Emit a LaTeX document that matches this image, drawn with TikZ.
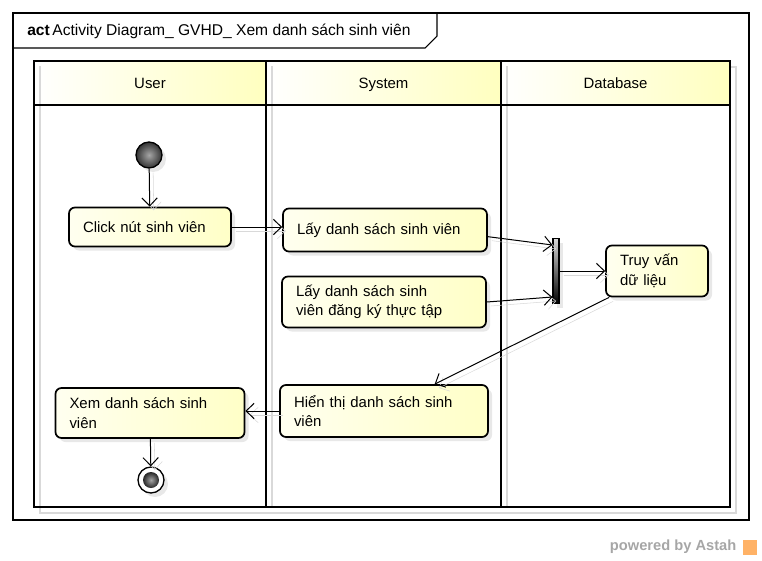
\documentclass[tikz,border=0pt]{standalone}
\usepackage{fontspec}
\setmainfont{Liberation Sans}
\usetikzlibrary{arrows.meta,shadows}

\begin{document}
\begin{tikzpicture}[
  x=0.75pt, y=-0.75pt,
  every node/.style={font=\fontsize{11.2pt}{14.5pt}\selectfont},
  lane/.style={line width=1.6pt},
  laneshade/.style={draw=black!15, line width=1.2pt},
  act/.style={draw, line width=1.3pt, rounded corners=4.5pt, align=left,
    inner xsep=10.5pt, left color=yellow!6, right color=yellow!22,
    drop shadow={shadow xshift=3pt, shadow yshift=-3pt, fill=black!18}},
  bar/.style={draw, line width=0.8pt, inner sep=0pt, minimum width=4.5pt,
    minimum height=48.75pt, top color=black!15, bottom color=black,
    drop shadow={shadow xshift=3pt, shadow yshift=-3pt, fill=black!18}},
  start/.style={circle, draw, line width=1pt, minimum size=19.5pt, inner sep=0pt,
    inner color=black!35, outer color=black!80,
    drop shadow={shadow xshift=3pt, shadow yshift=-3pt, fill=black!18}},
  stop/.style={circle, draw, line width=1pt, minimum size=19.5pt, inner sep=0pt,
    fill=white, drop shadow={shadow xshift=3pt, shadow yshift=-3pt, fill=black!18}},
  flow/.style={-{Straight Barb[length=6pt,width=11.5pt]}, line width=0.75pt,
    preaction={draw=black!15, transform canvas={xshift=3pt,yshift=-3pt}}}
]
\useasboundingbox (0,0) rectangle (762,560);

% frame and title tab
\draw[line width=0.8pt] (13,13) rectangle (749,520);
\draw[line width=0.8pt] (13,48) -- (425,48) -- (437,36) -- (437,13);
\node[anchor=west, inner sep=0pt, font=\fontsize{11.7pt}{14pt}\selectfont] (title) at (27,31) {\textbf{act}\,Activity Diagram\_ GVHD\_ Xem danh sách sinh viên};

% swimlanes
\draw[laneshade] (40,507) -- (40,513) -- (736,513) -- (736,67) -- (730,67);
\foreach \xa/\xb/\name in {34/266/User, 266/501/System, 501/730/Database} {
  \shade[left color=white, right color=yellow!25] (\xa,61) rectangle (\xb,105);
  \draw[laneshade] (\xa+6,66) -- (\xa+6,507);
  \node[text height=1.6ex, text depth=0.4ex] (h-\name) at ({(\xa+\xb)/2},84) {\name};
}
\draw[lane] (34,61) rectangle (730,507);
\draw[lane] (34,105) -- (730,105);
\draw[lane] (266,61) -- (266,507);
\draw[lane] (501,61) -- (501,507);

% activities
\node[start] (init) at (149,155) {};
\node[act, text width=100.5pt, minimum height=29.25pt] (click) at (150,227) {Click nút sinh viên};
\node[act, text width=132pt, minimum height=32.25pt] (lay1) at (385,230) {Lấy danh sách sinh viên};
\node[act, text width=132pt, minimum height=38.25pt] (lay2) at (384,302) {Lấy danh sách sinh\\viên đăng ký thực tập};
\node[bar] (fork) at (556,271) {};
\node[act, text width=55.5pt, minimum height=38.25pt] (truy) at (657,271) {Truy vấn\\dữ liệu};
\node[act, text width=135pt, minimum height=39pt] (hien) at (384,411) {Hiển thị danh sách sinh\\viên};
\node[act, text width=120.75pt, minimum height=37.5pt] (xem) at (150,413) {Xem danh sách sinh\\viên};
\node[stop] (final) at (151,480) {};
\node[circle, inner sep=0pt, minimum size=12pt, inner color=black!35, outer color=black!85] (finaldot) at (final) {};

% flows
\draw[flow] (init) -- (click);
\draw[flow] (click.east) -- (lay1.west |- click.east);
\draw[flow] ([yshift=-5pt]lay1.east) -- ([yshift=19.5pt]fork.west);
\draw[flow] (lay2.east) -- ([yshift=-19.5pt]fork.west);
\draw[flow] (fork.east) -- (truy.west);
\draw[flow] ([xshift=3pt]truy.south west) -- ([xshift=38pt]hien.north);
\draw[flow] (hien.west) -- (xem.east |- hien.west);
\draw[flow] (xem) -- (final);

\node[anchor=east, text=black!35, font=\bfseries\fontsize{11pt}{13pt}\selectfont] (astah) at (741,547) {powered by Astah};
\fill[orange!60] (743,540) rectangle (757,555);
\end{tikzpicture}
\end{document}
